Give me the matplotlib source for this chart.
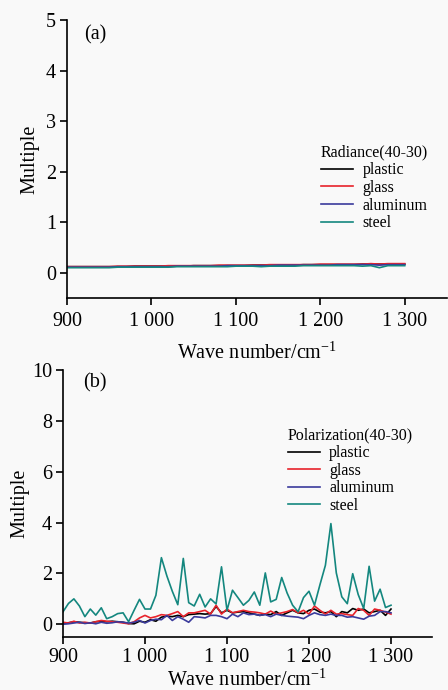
import matplotlib
matplotlib.use("Agg")
import matplotlib.pyplot as plt

plt.rcParams['font.family'] = ['Liberation Serif', 'DejaVu Serif']
plt.rcParams['mathtext.fontset'] = 'stix'

# ---------- panel (a): radiance ----------
wn_a = [900, 910, 920, 930, 940, 950, 960, 970, 980, 990,
        1000, 1010, 1020, 1030, 1040, 1050, 1060, 1070, 1080, 1090,
        1100, 1110, 1120, 1130, 1140, 1150, 1160, 1170, 1180, 1190,
        1200, 1210, 1220, 1230, 1240, 1250, 1260, 1270, 1280, 1290, 1300]
rad_plastic = [0.12, 0.12, 0.12, 0.12, 0.12, 0.12, 0.12, 0.12, 0.13, 0.13,
               0.13, 0.13, 0.13, 0.13, 0.13, 0.14, 0.14, 0.14, 0.14, 0.14,
               0.14, 0.14, 0.15, 0.15, 0.15, 0.15, 0.15, 0.15, 0.16, 0.16,
               0.16, 0.16, 0.16, 0.16, 0.16, 0.17, 0.17, 0.17, 0.17, 0.17, 0.17]
rad_glass = [0.12, 0.12, 0.12, 0.12, 0.12, 0.12, 0.13, 0.13, 0.13, 0.13,
             0.13, 0.13, 0.14, 0.14, 0.14, 0.14, 0.14, 0.14, 0.15, 0.15,
             0.15, 0.15, 0.15, 0.15, 0.16, 0.16, 0.16, 0.16, 0.16, 0.16,
             0.17, 0.17, 0.17, 0.17, 0.17, 0.17, 0.18, 0.17, 0.18, 0.18, 0.18]
rad_aluminum = [0.11, 0.11, 0.11, 0.11, 0.11, 0.11, 0.12, 0.12, 0.12, 0.12,
                0.12, 0.12, 0.12, 0.13, 0.13, 0.13, 0.13, 0.13, 0.13, 0.14,
                0.14, 0.14, 0.14, 0.14, 0.14, 0.15, 0.15, 0.15, 0.15, 0.15,
                0.15, 0.15, 0.16, 0.16, 0.16, 0.16, 0.16, 0.15, 0.16, 0.16, 0.16]
rad_steel = [0.10, 0.10, 0.10, 0.10, 0.10, 0.10, 0.11, 0.11, 0.11, 0.11,
             0.11, 0.11, 0.11, 0.12, 0.12, 0.12, 0.12, 0.12, 0.12, 0.12,
             0.13, 0.13, 0.13, 0.12, 0.13, 0.13, 0.13, 0.13, 0.14, 0.14,
             0.14, 0.14, 0.14, 0.14, 0.14, 0.13, 0.14, 0.10, 0.14, 0.14, 0.14]

# ---------- panel (b): polarization ----------
wn_b = [900.0, 906.7, 913.3, 920.0, 926.7, 933.3, 940.0, 946.7, 953.3, 960.0,
        966.7, 973.3, 980.0, 986.7, 993.3, 1000.0, 1006.7, 1013.3, 1020.0, 1026.7,
        1033.3, 1040.0, 1046.7, 1053.3, 1060.0, 1066.7, 1073.3, 1080.0, 1086.7, 1093.3,
        1100.0, 1106.7, 1113.3, 1120.0, 1126.7, 1133.3, 1140.0, 1146.7, 1153.3, 1160.0,
        1166.7, 1173.3, 1180.0, 1186.7, 1193.3, 1200.0, 1206.7, 1213.3, 1220.0, 1226.7,
        1233.3, 1240.0, 1246.7, 1253.3, 1260.0, 1266.7, 1273.3, 1280.0, 1286.7, 1293.3, 1300.0]
pol_plastic = [0.05, 0.06, 0.10, 0.08, 0.06, 0.05, 0.10, 0.12, 0.10, 0.12,
               0.10, 0.08, 0.03, 0.02, 0.12, 0.08, 0.18, 0.12, 0.28, 0.32,
               0.30, 0.35, 0.30, 0.38, 0.40, 0.42, 0.40, 0.42, 0.70, 0.45,
               0.55, 0.45, 0.48, 0.50, 0.45, 0.40, 0.35, 0.40, 0.38, 0.50,
               0.35, 0.45, 0.55, 0.45, 0.42, 0.55, 0.60, 0.48, 0.45, 0.50,
               0.30, 0.50, 0.45, 0.62, 0.55, 0.60, 0.45, 0.50, 0.55, 0.35, 0.60]
pol_glass = [0.08, 0.05, 0.12, 0.05, 0.08, 0.05, 0.10, 0.15, 0.12, 0.10,
             0.08, 0.05, 0.02, 0.10, 0.25, 0.35, 0.25, 0.30, 0.38, 0.35,
             0.42, 0.50, 0.30, 0.45, 0.45, 0.50, 0.55, 0.40, 0.75, 0.40,
             0.60, 0.45, 0.50, 0.55, 0.50, 0.48, 0.45, 0.40, 0.52, 0.40,
             0.45, 0.50, 0.58, 0.45, 0.55, 0.40, 0.72, 0.55, 0.40, 0.55,
             0.40, 0.42, 0.38, 0.35, 0.62, 0.55, 0.35, 0.60, 0.55, 0.48, 0.40]
pol_aluminum = [0.00, 0.02, 0.05, 0.08, 0.03, 0.06, 0.02, 0.08, 0.04, 0.06,
                0.10, 0.08, 0.05, 0.08, 0.15, 0.05, 0.15, 0.20, 0.18, 0.35,
                0.15, 0.30, 0.20, 0.08, 0.30, 0.28, 0.25, 0.35, 0.35, 0.30,
                0.22, 0.40, 0.30, 0.45, 0.38, 0.40, 0.35, 0.38, 0.30, 0.40,
                0.35, 0.32, 0.30, 0.28, 0.22, 0.35, 0.45, 0.38, 0.35, 0.40,
                0.35, 0.35, 0.28, 0.30, 0.25, 0.20, 0.32, 0.35, 0.50, 0.50, 0.45]
pol_steel = [0.49, 0.82, 1.00, 0.72, 0.30, 0.60, 0.36, 0.65, 0.22, 0.30,
             0.42, 0.45, 0.10, 0.55, 0.98, 0.60, 0.60, 1.14, 2.62, 1.90,
             1.30, 0.77, 2.59, 0.85, 0.72, 1.18, 0.68, 1.00, 0.80, 2.26,
             0.55, 1.34, 1.05, 0.75, 0.94, 1.27, 0.75, 2.02, 0.88, 0.98,
             1.84, 1.23, 0.75, 0.49, 1.05, 1.30, 0.75, 1.55, 2.32, 3.96,
             2.02, 1.08, 0.81, 1.99, 1.17, 0.62, 2.28, 0.91, 1.38, 0.66, 0.75]

labels = ['plastic', 'glass', 'aluminum', 'steel']
colors = ['#000000', '#e8232b', '#3b3b9c', '#14877f']
xticks = [900, 1000, 1100, 1200, 1300]
xticklabels = ['900', '1 000', '1 100', '1 200', '1 300']

bg = '#f9f9f9'
fig = plt.figure(figsize=(4.48, 6.90), dpi=100, facecolor=bg)

ax1 = fig.add_axes([0.1496, 0.5681, 0.848, 0.4029], facecolor=bg)
ax2 = fig.add_axes([0.1406, 0.0768, 0.8237, 0.3870], facecolor=bg)

panels = [
    (ax1, wn_a, [rad_plastic, rad_glass, rad_aluminum, rad_steel], (-0.5, 5),
     [0, 1, 2, 3, 4, 5], 'Radiance(40-30)', (0.668, 0.551), '(a)', (0.075, 0.946),
     5, 8, -0.0735),
    (ax2, wn_b, [pol_plastic, pol_glass, pol_aluminum, pol_steel], (-0.5, 10),
     [0, 2, 4, 6, 8, 10], 'Polarization(40-30)', (0.609, 0.784), '(b)', (0.087, 0.952),
     3, 1.5, -0.092),
]

for ax, wn, series, ylim, yticks, title, anchor, tag, tagpos, xpad, xlpad, ylx in panels:
    for ys, lab, c in zip(series, labels, colors):
        ax.plot(wn, ys, color=c, lw=1.2, label=lab)
    ax.set_xlim(900, 1350)
    ax.set_ylim(*ylim)
    ax.set_xticks(xticks)
    ax.set_xticklabels(xticklabels)
    ax.set_yticks(yticks)
    ax.spines['top'].set_visible(False)
    ax.spines['right'].set_visible(False)
    for s in ('left', 'bottom'):
        ax.spines[s].set_linewidth(1.2)
    ax.tick_params(direction='out', length=5, width=1.2, labelsize=14.5, pad=3)
    ax.tick_params(axis='x', pad=xpad)
    ax.set_xlabel('Wave number/cm$^{\\mathregular{-1}}$', fontsize=14.5, labelpad=xlpad)
    ax.set_ylabel('Multiple', fontsize=14.5)
    ax.yaxis.set_label_coords(ylx, 0.5)
    ax.legend(title=title, loc='upper left', bbox_to_anchor=anchor,
              frameon=False, fontsize=11.5, title_fontsize=11.5,
              handlelength=2.0, handletextpad=0.6, labelspacing=0.1,
              borderpad=0, borderaxespad=0, alignment='left')
    ax.text(tagpos[0], tagpos[1], tag, transform=ax.transAxes, fontsize=14.5,
            ha='center', va='center')

fig.savefig('out.png', dpi=100, facecolor=bg)
